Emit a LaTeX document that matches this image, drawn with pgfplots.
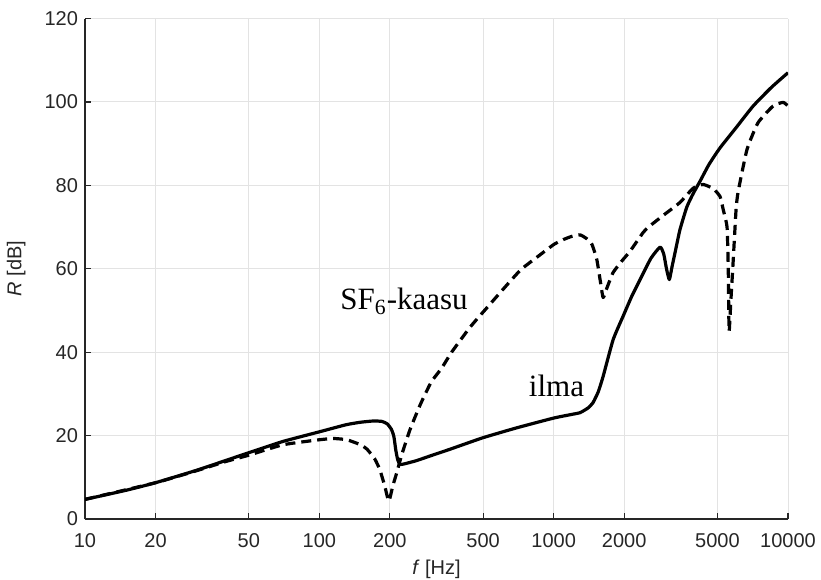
\documentclass[border=0pt]{standalone}
\usepackage{fontspec}
\setmainfont{Liberation Sans}
\newfontfamily\serifann{Liberation Serif}
\usepackage{pgfplots}
\pgfplotsset{compat=1.18}
\definecolor{axgray}{HTML}{262626}
\definecolor{gridgray}{HTML}{E3E3E3}

\begin{document}
\begin{tikzpicture}
\path[use as bounding box] (-42.5pt,-30.25pt) rectangle (368pt,259.5pt);
\begin{axis}[
  scale only axis, width=351.5pt, height=250.25pt,
  xmode=log, xmin=10, xmax=10000, ymin=0, ymax=120,
  axis x line=bottom, axis y line=left,
  axis line style={-, draw=axgray, line width=0.6pt},
  xtick={10,20,50,100,200,500,1000,2000,5000,10000},
  xticklabels={10,20,50,100,200,500,1000,2000,5000,10000},
  ytick={0,20,...,120},
  grid=major, major grid style={gridgray, line width=0.5pt},
  tick align=inside, major tick length=3pt,
  tick style={axgray, line width=0.6pt},
  ticklabel style={font=\fontsize{10}{12}\selectfont, text=axgray},
  xticklabel style={yshift=-3.5pt},
  /pgf/number format/assume math mode=true,
  xlabel={\textit{f} [Hz]}, ylabel={\textit{R} [dB]},
  label style={font=\fontsize{10}{12}\selectfont, text=axgray},
  xlabel style={at={(axis description cs:0.5,-0.1)}, anchor=center},
  ylabel style={at={(axis description cs:-0.098,0.5)}, anchor=center},
]
% ilma
\addplot[black, line width=1.6pt, line join=round, smooth, tension=0.3] coordinates {
(10,4.7) (15,6.9) (20,8.7) (30,11.7) (50,15.9) (70,18.6) (100,20.9)
(130,22.6) (150,23.2) (170,23.5) (185,23.4) (195,22.8) (203,21.5)
(208,19.8) (212,16.5) (216,14.2) (221,13.1) (230,13.2) (260,14.0)
(300,15.2) (360,16.7) (500,19.5) (700,21.9) (1000,24.2) (1200,25.1)
(1297,25.5) (1400,26.6) (1472,27.9) (1550,30.5) (1626,34.2) (1794,43)
(1978,48.6) (2150,53.3) (2337,57.4) (2600,62.5) (2846,65.2) (2950,63.5)
(3030,60) (3116,57.4) (3200,60.5) (3300,64) (3460,69.4) (3700,74.8)
(3937,78) (4215,81) (4600,85) (5130,89) (6000,93.8) (7098,99)
(8500,103.5) (10000,107)
};
% SF6-kaasu
\addplot[black, line width=1.6pt, dash pattern=on 5pt off 3pt, line join=round, smooth, tension=0.3] coordinates {
(10,4.7) (20,8.7) (30,11.6) (40,13.8) (50,15.3) (70,17.8) (100,19.0)
(115,19.3) (131,19.0) (150,17.8) (160,16.7) (172,14.5) (181,11.9)
(190,8) (198,4.3) (206,8) (214,11.1) (225,15.5) (244,21.5) (270,27.5)
(300,32.8) (333,36.2) (367,40) (440,46) (518,50.6) (620,55.6) (725,59.8)
(850,62.8) (1000,65.8) (1100,67) (1200,67.8) (1300,68.1) (1384,67.2)
(1458,65.8) (1528,62.2) (1578,57.4) (1626,53.1) (1690,55.5) (1794,59.1)
(1950,61.8) (2118,64.2) (2410,68.7) (2578,70.3) (3000,73.2) (3460,75.9)
(3937,79.3) (4345,80.2) (4800,79.2) (5130,77.3) (5300,74) (5494,70)
(5560,60) (5605,45) (5700,52) (5837,62) (6000,74) (6120,78.3) (6685,88.6)
(7447,95) (8630,99) (9530,99.9) (10000,99)
};
\node[font=\serifann\fontsize{15.5}{18}\selectfont, anchor=base] at (axis cs:230,50.2) {SF\textsubscript{6}-kaasu};
\node[font=\serifann\fontsize{15.5}{18}\selectfont, anchor=base] at (axis cs:1028,29.4) {ilma};
\end{axis}
\end{tikzpicture}
\end{document}
